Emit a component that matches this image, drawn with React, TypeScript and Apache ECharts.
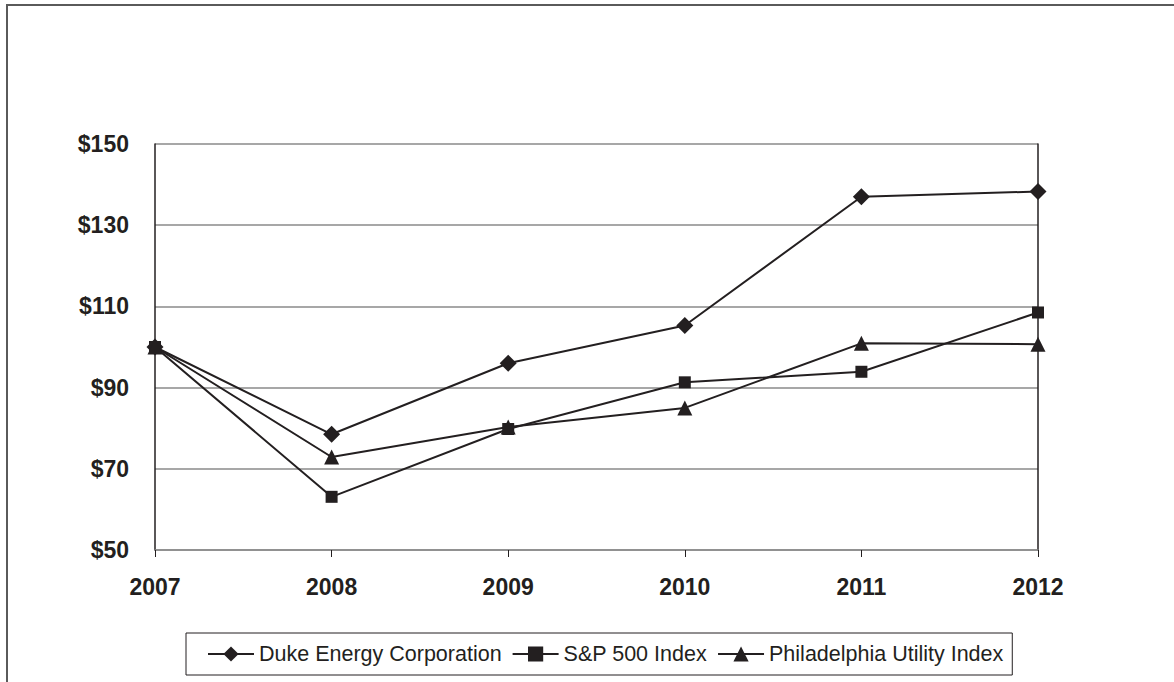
import React, { useEffect, useRef } from "react";
import * as echarts from "echarts";

const years = ["2007", "2008", "2009", "2010", "2011", "2012"];
const duke = [100, 78.5, 96.0, 105.3, 137.0, 138.3];
const sp500 = [100, 63.1, 79.8, 91.3, 93.9, 108.5];
const phil = [100, 72.9, 80.3, 85.0, 100.9, 100.7];
const seriesNames = ["Duke Energy Corporation", "S&P 500 Index", "Philadelphia Utility Index"];

const INK = "#231f20";

export default function App() {
  const ref = useRef<HTMLDivElement>(null);
  useEffect(() => {
    if (!ref.current) return;
    const chart = echarts.init(ref.current, null, { renderer: "svg" });
    const mkSeries = (name: string, data: number[], symbol: string, size: number) => ({
      name,
      type: "line",
      data,
      symbol,
      symbolSize: size,
      showAllSymbol: true,
      lineStyle: { color: INK, width: 2 },
      itemStyle: { color: INK },
    });
    chart.setOption({
      animation: false,
      backgroundColor: "#ffffff",
      grid: { left: 155, top: 144, right: 136, bottom: 132 },
      xAxis: {
        type: "category",
        data: years,
        boundaryGap: false,
        axisLine: { show: true, lineStyle: { color: "#8a8a8a", width: 1.5 } },
        axisTick: { show: true, interval: 0, length: 7, lineStyle: { color: INK, width: 1 } },
        axisLabel: {
          interval: 0,
          margin: 25,
          fontFamily: "Liberation Sans, Arial, sans-serif",
          fontWeight: "bold",
          fontSize: 23,
          color: INK,
        },
        splitLine: { show: false },
      },
      yAxis: [
        {
          type: "value",
          min: 50,
          max: 150,
          interval: 20,
          axisLine: { show: true, lineStyle: { color: INK, width: 1.5 } },
          axisTick: { show: false },
          axisLabel: {
            margin: 26,
            formatter: (v: number) => "$" + v,
            fontFamily: "Liberation Sans, Arial, sans-serif",
            fontWeight: "bold",
            fontSize: 23,
            color: INK,
          },
          splitLine: { show: true, lineStyle: { color: "#8a8a8a", width: 1.5 } },
        },
        {
          type: "value",
          position: "right",
          min: 50,
          max: 150,
          interval: 20,
          axisLine: { show: true, lineStyle: { color: INK, width: 1.5 } },
          axisTick: { show: false },
          axisLabel: { show: false },
          splitLine: { show: false },
        },
      ],
      legend: {
        left: 186,
        top: 633,
        orient: "horizontal",
        data: seriesNames,
        itemWidth: 46,
        itemHeight: 19,
        itemGap: 10,
        padding: [10, 9, 10, 21],
        borderColor: INK,
        borderWidth: 1,
        textStyle: {
          fontFamily: "Liberation Sans, Arial, sans-serif",
          fontSize: 21.5,
          color: INK,
        },
      },
      graphic: [
        {
          type: "rect",
          shape: { x: 7, y: 5, width: 1300, height: 800 },
          style: { fill: "none", stroke: "#5a5a5a", lineWidth: 2 },
          silent: true,
        },
      ],
      series: [
        mkSeries(seriesNames[0], duke, "diamond", 17),
        mkSeries(seriesNames[1], sp500, "rect", 12),
        mkSeries(seriesNames[2], phil, "triangle", 15),
      ],
    });
    return () => chart.dispose();
  }, []);
  return (
    <div
      ref={ref}
      style={{ position: "fixed", left: 0, top: 0, width: 1174, height: 682, background: "#fff" }}
    />
  );
}
